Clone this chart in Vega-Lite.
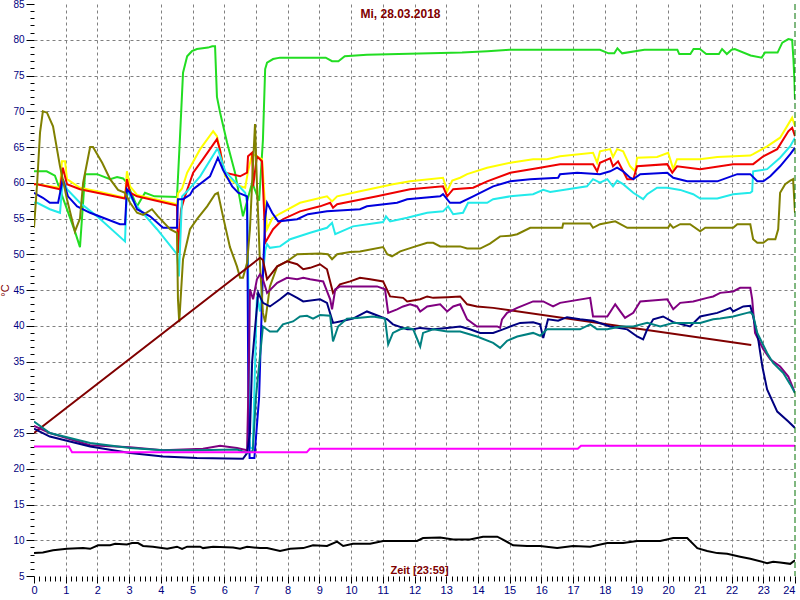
{
  "$schema": "https://vega.github.io/schema/vega-lite/v6.json",
  "width": 761,
  "height": 572,
  "autosize": "none",
  "padding": {"left": 34, "top": 4, "right": 5, "bottom": 24},
  "background": "white",
  "config": {"view": {"stroke": null}},
  "title": {"text": "Mi, 28.03.2018", "color": "#800000", "font": "Liberation Sans", "fontSize": 12, "fontWeight": "bold", "anchor": "middle", "dy": 22, "dx": -14, "offset": 0},
  "datasets": {
    "series": [
      {"s":"g","h":0,"v":61.6},{"s":"g","h":0.4,"v":61.6},{"s":"g","h":0.66,"v":61.0},{"s":"g","h":1.29,"v":53.2},{"s":"g","h":1.45,"v":51.0},{"s":"g","h":1.61,"v":61.2},{"s":"g","h":1.99,"v":61.2},{"s":"g","h":2.4,"v":60.5},{"s":"g","h":2.62,"v":60.8},{"s":"g","h":2.81,"v":60.6},{"s":"g","h":2.93,"v":60},{"s":"g","h":3.25,"v":56.7},{"s":"g","h":3.5,"v":58.6},{"s":"g","h":3.8,"v":58.1},{"s":"g","h":4.51,"v":58},{"s":"g","h":4.6,"v":66},{"s":"g","h":4.7,"v":75.4},{"s":"g","h":4.83,"v":77.7},{"s":"g","h":4.98,"v":78.4},{"s":"g","h":5.14,"v":78.7},{"s":"g","h":5.49,"v":78.9},{"s":"g","h":5.62,"v":79.1},{"s":"g","h":5.71,"v":79.1},{"s":"g","h":5.77,"v":72},{"s":"g","h":5.87,"v":69.8},{"s":"g","h":6.09,"v":65.6},{"s":"g","h":6.34,"v":61.4},{"s":"g","h":6.44,"v":59},{"s":"g","h":6.59,"v":55.3},{"s":"g","h":6.88,"v":60},{"s":"g","h":7.1,"v":57.5},{"s":"g","h":7.22,"v":66},{"s":"g","h":7.29,"v":75.9},{"s":"g","h":7.35,"v":76.8},{"s":"g","h":7.54,"v":77.3},{"s":"g","h":7.76,"v":77.5},{"s":"g","h":8.3,"v":77.5},{"s":"g","h":9.2,"v":77.5},{"s":"g","h":9.4,"v":77.0},{"s":"g","h":9.6,"v":77.0},{"s":"g","h":9.8,"v":77.7},{"s":"g","h":10.5,"v":77.9},{"s":"g","h":11.5,"v":78.0},{"s":"g","h":12.5,"v":78.1},{"s":"g","h":13.5,"v":78.2},{"s":"g","h":14.3,"v":78.4},{"s":"g","h":15.0,"v":78.6},{"s":"g","h":17.85,"v":78.6},{"s":"g","h":18.12,"v":78.1},{"s":"g","h":18.3,"v":78.1},{"s":"g","h":18.4,"v":78.8},{"s":"g","h":18.55,"v":78.1},{"s":"g","h":19.25,"v":78.6},{"s":"g","h":20.29,"v":78.6},{"s":"g","h":20.35,"v":78.0},{"s":"g","h":20.7,"v":78.0},{"s":"g","h":20.8,"v":78.7},{"s":"g","h":21.0,"v":78.7},{"s":"g","h":21.2,"v":78.0},{"s":"g","h":21.6,"v":78.0},{"s":"g","h":21.7,"v":78.7},{"s":"g","h":21.85,"v":78.0},{"s":"g","h":22.0,"v":78.6},{"s":"g","h":22.1,"v":78.7},{"s":"g","h":22.6,"v":77.8},{"s":"g","h":22.95,"v":77.5},{"s":"g","h":23.05,"v":78.2},{"s":"g","h":23.45,"v":78.2},{"s":"g","h":23.6,"v":79.6},{"s":"g","h":23.79,"v":80.1},{"s":"g","h":23.91,"v":80.0},{"s":"g","h":23.95,"v":77.3},{"s":"g","h":23.98,"v":74.5},{"s":"g","h":24.0,"v":71.7},

      {"s":"y","h":0,"v":59.8},{"s":"y","h":0.1,"v":59.8},{"s":"y","h":0.82,"v":59.3},{"s":"y","h":0.88,"v":63},{"s":"y","h":0.98,"v":63},{"s":"y","h":1.04,"v":60.5},{"s":"y","h":1.45,"v":59.3},{"s":"y","h":1.99,"v":58.8},{"s":"y","h":2.87,"v":57.9},{"s":"y","h":2.93,"v":61.6},{"s":"y","h":3.03,"v":59.5},{"s":"y","h":3.25,"v":58.3},{"s":"y","h":4.51,"v":57.0},{"s":"y","h":4.54,"v":58.5},{"s":"y","h":4.67,"v":59.2},{"s":"y","h":4.83,"v":61.4},{"s":"y","h":5.24,"v":64.7},{"s":"y","h":5.65,"v":67.2},{"s":"y","h":5.77,"v":66.5},{"s":"y","h":5.93,"v":63.3},{"s":"y","h":6.03,"v":60.9},{"s":"y","h":6.5,"v":59.5},{"s":"y","h":6.66,"v":59.3},{"s":"y","h":6.75,"v":61.6},{"s":"y","h":6.88,"v":64},{"s":"y","h":7.03,"v":63.7},{"s":"y","h":7.19,"v":63.3},{"s":"y","h":7.27,"v":58},{"s":"y","h":7.35,"v":53.5},{"s":"y","h":7.51,"v":55.0},{"s":"y","h":7.76,"v":55.7},{"s":"y","h":8.39,"v":57.2},{"s":"y","h":9.24,"v":58.1},{"s":"y","h":9.4,"v":57.4},{"s":"y","h":9.56,"v":58.1},{"s":"y","h":10.28,"v":58.8},{"s":"y","h":11.32,"v":59.8},{"s":"y","h":11.86,"v":60.2},{"s":"y","h":12.9,"v":60.7},{"s":"y","h":13.03,"v":58.8},{"s":"y","h":13.19,"v":60.3},{"s":"y","h":13.44,"v":60.7},{"s":"y","h":13.66,"v":61.2},{"s":"y","h":14.29,"v":62.1},{"s":"y","h":15.02,"v":62.8},{"s":"y","h":15.74,"v":63.3},{"s":"y","h":16.18,"v":63.3},{"s":"y","h":16.59,"v":63.7},{"s":"y","h":17.63,"v":64.2},{"s":"y","h":17.76,"v":62.8},{"s":"y","h":17.85,"v":64.4},{"s":"y","h":18.17,"v":64.7},{"s":"y","h":18.26,"v":63.6},{"s":"y","h":18.39,"v":64.7},{"s":"y","h":18.58,"v":64.4},{"s":"y","h":18.8,"v":62.3},{"s":"y","h":18.96,"v":61.6},{"s":"y","h":19.02,"v":63.5},{"s":"y","h":19.65,"v":63.6},{"s":"y","h":20.0,"v":64.2},{"s":"y","h":20.16,"v":61.9},{"s":"y","h":20.28,"v":63.3},{"s":"y","h":21.0,"v":63.3},{"s":"y","h":21.55,"v":63.6},{"s":"y","h":22.59,"v":63.8},{"s":"y","h":22.68,"v":64.0},{"s":"y","h":23.12,"v":65.1},{"s":"y","h":23.53,"v":66.3},{"s":"y","h":23.79,"v":68.2},{"s":"y","h":23.91,"v":69.1},{"s":"y","h":24.0,"v":67.9},

      {"s":"r","h":0,"v":59.8},{"s":"r","h":0.1,"v":59.8},{"s":"r","h":0.82,"v":59.1},{"s":"r","h":0.91,"v":62.1},{"s":"r","h":1.04,"v":59.8},{"s":"r","h":1.45,"v":59.1},{"s":"r","h":1.99,"v":58.6},{"s":"r","h":2.87,"v":57.8},{"s":"r","h":2.93,"v":60.5},{"s":"r","h":3.03,"v":58.6},{"s":"r","h":3.25,"v":58.1},{"s":"r","h":4.51,"v":56.8},{"s":"r","h":4.54,"v":50.2},{"s":"r","h":4.64,"v":56.3},{"s":"r","h":4.76,"v":58.1},{"s":"r","h":5.02,"v":61.4},{"s":"r","h":5.33,"v":63.3},{"s":"r","h":5.77,"v":66.1},{"s":"r","h":5.87,"v":64.5},{"s":"r","h":5.96,"v":62.3},{"s":"r","h":6.03,"v":61.4},{"s":"r","h":6.5,"v":60.9},{"s":"r","h":6.72,"v":61.4},{"s":"r","h":6.75,"v":63.7},{"s":"r","h":6.88,"v":64.2},{"s":"r","h":6.91,"v":59.5},{"s":"r","h":7.03,"v":63.7},{"s":"r","h":7.19,"v":63},{"s":"r","h":7.25,"v":56.7},{"s":"r","h":7.29,"v":51.6},{"s":"r","h":7.54,"v":53.5},{"s":"r","h":7.85,"v":54.9},{"s":"r","h":8.39,"v":56},{"s":"r","h":9.02,"v":56.7},{"s":"r","h":9.34,"v":57.2},{"s":"r","h":9.43,"v":56.5},{"s":"r","h":9.56,"v":57.0},{"s":"r","h":10.82,"v":58.1},{"s":"r","h":11.86,"v":59.1},{"s":"r","h":12.9,"v":59.5},{"s":"r","h":13.03,"v":58.1},{"s":"r","h":13.22,"v":59.1},{"s":"r","h":13.85,"v":59.3},{"s":"r","h":14.29,"v":60.2},{"s":"r","h":15.02,"v":61.4},{"s":"r","h":15.96,"v":62.1},{"s":"r","h":16.59,"v":62.6},{"s":"r","h":17.63,"v":62.6},{"s":"r","h":17.76,"v":61.6},{"s":"r","h":17.85,"v":62.8},{"s":"r","h":18.17,"v":63.4},{"s":"r","h":18.26,"v":62.3},{"s":"r","h":18.42,"v":63.0},{"s":"r","h":18.71,"v":60.5},{"s":"r","h":18.9,"v":60.5},{"s":"r","h":19.02,"v":62.3},{"s":"r","h":19.97,"v":62.6},{"s":"r","h":20.13,"v":61.4},{"s":"r","h":20.28,"v":62.3},{"s":"r","h":21.01,"v":61.9},{"s":"r","h":22.05,"v":62.6},{"s":"r","h":22.68,"v":62.6},{"s":"r","h":23.0,"v":63.7},{"s":"r","h":23.44,"v":64.7},{"s":"r","h":23.79,"v":67.2},{"s":"r","h":23.91,"v":67.7},{"s":"r","h":24.0,"v":66.5},

      {"s":"c","h":0,"v":57.2},{"s":"c","h":0.1,"v":57.2},{"s":"c","h":0.5,"v":56.3},{"s":"c","h":0.82,"v":55.8},{"s":"c","h":0.91,"v":60.5},{"s":"c","h":1.04,"v":59.1},{"s":"c","h":1.45,"v":57.2},{"s":"c","h":1.99,"v":55.3},{"s":"c","h":2.87,"v":51.8},{"s":"c","h":2.93,"v":59.1},{"s":"c","h":3.03,"v":58.1},{"s":"c","h":3.25,"v":56.7},{"s":"c","h":3.88,"v":53.5},{"s":"c","h":4.51,"v":50.0},{"s":"c","h":4.57,"v":46.9},{"s":"c","h":4.67,"v":58.1},{"s":"c","h":4.83,"v":58.8},{"s":"c","h":5.24,"v":60.9},{"s":"c","h":5.77,"v":64.7},{"s":"c","h":5.8,"v":64.7},{"s":"c","h":6.03,"v":61.6},{"s":"c","h":6.66,"v":58.6},{"s":"c","h":6.72,"v":57.2},{"s":"c","h":6.78,"v":40},{"s":"c","h":6.81,"v":23},{"s":"c","h":6.9,"v":22.8},{"s":"c","h":7.03,"v":44.1},{"s":"c","h":7.13,"v":42},{"s":"c","h":7.2,"v":46},{"s":"c","h":7.29,"v":50.5},{"s":"c","h":7.35,"v":51.4},{"s":"c","h":7.44,"v":50.9},{"s":"c","h":7.76,"v":51.1},{"s":"c","h":8.08,"v":52.1},{"s":"c","h":8.71,"v":53},{"s":"c","h":9.24,"v":53.7},{"s":"c","h":9.4,"v":54.4},{"s":"c","h":9.5,"v":52.8},{"s":"c","h":10.06,"v":53.9},{"s":"c","h":11.01,"v":54.5},{"s":"c","h":11.1,"v":55.3},{"s":"c","h":11.23,"v":54.6},{"s":"c","h":11.77,"v":55.1},{"s":"c","h":12.4,"v":55.8},{"s":"c","h":12.9,"v":56.0},{"s":"c","h":13.06,"v":56.7},{"s":"c","h":13.22,"v":55.6},{"s":"c","h":13.53,"v":55.8},{"s":"c","h":13.69,"v":57.2},{"s":"c","h":14.29,"v":57.2},{"s":"c","h":14.48,"v":57.7},{"s":"c","h":15.02,"v":58.1},{"s":"c","h":15.74,"v":58.4},{"s":"c","h":16.06,"v":59.0},{"s":"c","h":16.28,"v":58.7},{"s":"c","h":17.44,"v":59.5},{"s":"c","h":17.63,"v":60.5},{"s":"c","h":17.85,"v":60.0},{"s":"c","h":18.08,"v":60.5},{"s":"c","h":18.26,"v":59.5},{"s":"c","h":18.39,"v":60.3},{"s":"c","h":18.58,"v":59.8},{"s":"c","h":18.9,"v":58.6},{"s":"c","h":19.21,"v":57.7},{"s":"c","h":19.34,"v":58.4},{"s":"c","h":19.65,"v":59.3},{"s":"c","h":19.97,"v":59.3},{"s":"c","h":20.38,"v":59.0},{"s":"c","h":20.79,"v":58.4},{"s":"c","h":21.01,"v":57.8},{"s":"c","h":21.55,"v":57.8},{"s":"c","h":22.05,"v":58.4},{"s":"c","h":22.59,"v":58.6},{"s":"c","h":22.65,"v":58.8},{"s":"c","h":22.68,"v":61.6},{"s":"c","h":23.12,"v":61.9},{"s":"c","h":23.53,"v":63.5},{"s":"c","h":23.85,"v":65.1},{"s":"c","h":24.0,"v":66.3},

      {"s":"b","h":0,"v":58.6},{"s":"b","h":0.28,"v":57.9},{"s":"b","h":0.5,"v":57.2},{"s":"b","h":0.76,"v":57.2},{"s":"b","h":0.91,"v":60.5},{"s":"b","h":1.07,"v":58.1},{"s":"b","h":1.36,"v":56.7},{"s":"b","h":1.77,"v":55.8},{"s":"b","h":2.18,"v":55.1},{"s":"b","h":2.71,"v":54.2},{"s":"b","h":2.87,"v":54.2},{"s":"b","h":2.93,"v":59.1},{"s":"b","h":3.03,"v":58.6},{"s":"b","h":3.25,"v":56.3},{"s":"b","h":3.66,"v":55.3},{"s":"b","h":4.07,"v":53.7},{"s":"b","h":4.51,"v":53.7},{"s":"b","h":4.54,"v":57.7},{"s":"b","h":4.7,"v":57.7},{"s":"b","h":4.92,"v":58.3},{"s":"b","h":5.02,"v":59.1},{"s":"b","h":5.55,"v":60.9},{"s":"b","h":5.8,"v":63.5},{"s":"b","h":5.96,"v":61.8},{"s":"b","h":6.25,"v":59.5},{"s":"b","h":6.44,"v":58.6},{"s":"b","h":6.72,"v":58.1},{"s":"b","h":6.76,"v":30},{"s":"b","h":6.8,"v":21.5},{"s":"b","h":6.95,"v":21.5},{"s":"b","h":7.1,"v":30},{"s":"b","h":7.2,"v":45},{"s":"b","h":7.29,"v":55},{"s":"b","h":7.35,"v":57.2},{"s":"b","h":7.51,"v":55.8},{"s":"b","h":7.7,"v":54.6},{"s":"b","h":8.3,"v":54.9},{"s":"b","h":8.64,"v":55.6},{"s":"b","h":9.24,"v":56.0},{"s":"b","h":10.28,"v":56.3},{"s":"b","h":10.5,"v":56.7},{"s":"b","h":11.45,"v":57.2},{"s":"b","h":11.77,"v":57.7},{"s":"b","h":12.81,"v":58.1},{"s":"b","h":12.9,"v":58.4},{"s":"b","h":13.12,"v":57.2},{"s":"b","h":13.44,"v":57.2},{"s":"b","h":13.85,"v":58.1},{"s":"b","h":14.48,"v":59.5},{"s":"b","h":15.02,"v":60.2},{"s":"b","h":15.65,"v":60.5},{"s":"b","h":16.53,"v":60.7},{"s":"b","h":16.59,"v":61.2},{"s":"b","h":17.13,"v":61.4},{"s":"b","h":17.85,"v":61.2},{"s":"b","h":18.17,"v":61.6},{"s":"b","h":18.39,"v":62.1},{"s":"b","h":18.58,"v":61.6},{"s":"b","h":18.8,"v":60.7},{"s":"b","h":18.9,"v":60.5},{"s":"b","h":19.12,"v":61.2},{"s":"b","h":19.97,"v":61.4},{"s":"b","h":20.16,"v":60.7},{"s":"b","h":20.6,"v":60.2},{"s":"b","h":21.55,"v":60.2},{"s":"b","h":22.18,"v":61.2},{"s":"b","h":22.59,"v":61.2},{"s":"b","h":22.81,"v":60.2},{"s":"b","h":23.0,"v":60.2},{"s":"b","h":23.22,"v":60.9},{"s":"b","h":23.53,"v":62.3},{"s":"b","h":23.85,"v":64.0},{"s":"b","h":24.0,"v":64.9},

      {"s":"o","h":0,"v":53.7},{"s":"o","h":0.1,"v":60},{"s":"o","h":0.19,"v":67},{"s":"o","h":0.28,"v":70},{"s":"o","h":0.41,"v":69.8},{"s":"o","h":0.6,"v":67.9},{"s":"o","h":0.82,"v":62.3},{"s":"o","h":1.04,"v":57.7},{"s":"o","h":1.29,"v":53.2},{"s":"o","h":1.45,"v":55},{"s":"o","h":1.55,"v":60},{"s":"o","h":1.77,"v":65},{"s":"o","h":1.86,"v":65},{"s":"o","h":2.15,"v":62.8},{"s":"o","h":2.4,"v":60.5},{"s":"o","h":2.65,"v":59},{"s":"o","h":2.87,"v":58.6},{"s":"o","h":3.03,"v":57.2},{"s":"o","h":3.25,"v":55.8},{"s":"o","h":3.44,"v":55.5},{"s":"o","h":3.72,"v":56.3},{"s":"o","h":3.91,"v":55.3},{"s":"o","h":4.29,"v":53.5},{"s":"o","h":4.51,"v":53},{"s":"o","h":4.54,"v":43.7},{"s":"o","h":4.58,"v":40.5},{"s":"o","h":4.7,"v":49.3},{"s":"o","h":4.92,"v":53.5},{"s":"o","h":5.14,"v":54.9},{"s":"o","h":5.46,"v":56.7},{"s":"o","h":5.71,"v":58.4},{"s":"o","h":5.8,"v":58.6},{"s":"o","h":5.96,"v":55.3},{"s":"o","h":6.18,"v":51},{"s":"o","h":6.4,"v":48.3},{"s":"o","h":6.5,"v":46.7},{"s":"o","h":6.59,"v":46.7},{"s":"o","h":6.72,"v":48.8},{"s":"o","h":6.81,"v":53.5},{"s":"o","h":6.91,"v":62.8},{"s":"o","h":6.97,"v":68.2},{"s":"o","h":7.03,"v":60},{"s":"o","h":7.13,"v":48.3},{"s":"o","h":7.22,"v":41.8},{"s":"o","h":7.29,"v":40.5},{"s":"o","h":7.44,"v":45.5},{"s":"o","h":7.67,"v":48.3},{"s":"o","h":7.98,"v":49.0},{"s":"o","h":8.3,"v":50.0},{"s":"o","h":9.02,"v":50.1},{"s":"o","h":9.27,"v":50.0},{"s":"o","h":9.4,"v":49.3},{"s":"o","h":9.56,"v":50.0},{"s":"o","h":9.97,"v":50.3},{"s":"o","h":10.28,"v":50.4},{"s":"o","h":11.01,"v":51},{"s":"o","h":11.14,"v":50.0},{"s":"o","h":11.29,"v":49.7},{"s":"o","h":11.55,"v":50.4},{"s":"o","h":11.96,"v":51},{"s":"o","h":12.4,"v":51.6},{"s":"o","h":12.59,"v":51.6},{"s":"o","h":12.81,"v":51.1},{"s":"o","h":13.44,"v":51.1},{"s":"o","h":13.66,"v":50.8},{"s":"o","h":14.07,"v":50.8},{"s":"o","h":14.38,"v":51.5},{"s":"o","h":14.7,"v":52.5},{"s":"o","h":15.02,"v":52.6},{"s":"o","h":15.24,"v":52.8},{"s":"o","h":15.65,"v":53.7},{"s":"o","h":16.66,"v":53.7},{"s":"o","h":16.69,"v":54.3},{"s":"o","h":17.54,"v":54.3},{"s":"o","h":17.63,"v":53.7},{"s":"o","h":17.85,"v":54.2},{"s":"o","h":18.33,"v":54.6},{"s":"o","h":18.71,"v":53.7},{"s":"o","h":20.0,"v":53.7},{"s":"o","h":20.06,"v":54.2},{"s":"o","h":20.16,"v":53.7},{"s":"o","h":20.38,"v":54.2},{"s":"o","h":20.69,"v":54.2},{"s":"o","h":21.01,"v":53.2},{"s":"o","h":21.17,"v":53.7},{"s":"o","h":22.05,"v":53.7},{"s":"o","h":22.18,"v":54.2},{"s":"o","h":22.59,"v":54.2},{"s":"o","h":22.68,"v":52.1},{"s":"o","h":22.81,"v":51.6},{"s":"o","h":23.0,"v":51.6},{"s":"o","h":23.15,"v":52.1},{"s":"o","h":23.38,"v":52.1},{"s":"o","h":23.47,"v":53.5},{"s":"o","h":23.53,"v":58.6},{"s":"o","h":23.69,"v":59.8},{"s":"o","h":23.85,"v":60.3},{"s":"o","h":23.94,"v":60.5},{"s":"o","h":24.0,"v":55.8},

      {"s":"m","h":0,"v":25.0},{"s":"m","h":7.13,"v":49.5},{"s":"m","h":7.22,"v":49.2},{"s":"m","h":7.35,"v":46.5},{"s":"m","h":7.67,"v":48.3},{"s":"m","h":7.98,"v":49.0},{"s":"m","h":8.3,"v":48.6},{"s":"m","h":8.49,"v":47.9},{"s":"m","h":8.71,"v":48.1},{"s":"m","h":9.02,"v":48.6},{"s":"m","h":9.24,"v":47.9},{"s":"m","h":9.43,"v":44.6},{"s":"m","h":9.65,"v":45.8},{"s":"m","h":9.97,"v":46.2},{"s":"m","h":10.28,"v":46.7},{"s":"m","h":10.6,"v":46.5},{"s":"m","h":11.01,"v":46.2},{"s":"m","h":11.23,"v":44.1},{"s":"m","h":11.64,"v":43.9},{"s":"m","h":11.77,"v":43.4},{"s":"m","h":12.18,"v":43.7},{"s":"m","h":12.4,"v":44.1},{"s":"m","h":12.59,"v":43.9},{"s":"m","h":13.03,"v":44.0},{"s":"m","h":13.44,"v":44.1},{"s":"m","h":13.66,"v":43.0},{"s":"m","h":13.97,"v":42.7},{"s":"m","h":14.48,"v":42.5},{"s":"m","h":22.62,"v":37.3},

      {"s":"p","h":0,"v":26.0},{"s":"p","h":0.5,"v":25.0},{"s":"p","h":1.77,"v":23.3},{"s":"p","h":3.03,"v":23.0},{"s":"p","h":4.07,"v":22.6},{"s":"p","h":5.33,"v":22.8},{"s":"p","h":5.87,"v":23.2},{"s":"p","h":6.4,"v":22.9},{"s":"p","h":6.72,"v":22.6},{"s":"p","h":6.78,"v":35},{"s":"p","h":6.81,"v":45.1},{"s":"p","h":6.91,"v":43.7},{"s":"p","h":7.03,"v":46.5},{"s":"p","h":7.13,"v":47.2},{"s":"p","h":7.22,"v":46.5},{"s":"p","h":7.35,"v":44.6},{"s":"p","h":7.67,"v":46.0},{"s":"p","h":7.98,"v":46.7},{"s":"p","h":8.3,"v":46.5},{"s":"p","h":8.49,"v":46.7},{"s":"p","h":8.71,"v":46.5},{"s":"p","h":9.12,"v":46.2},{"s":"p","h":9.34,"v":43.7},{"s":"p","h":9.4,"v":42.3},{"s":"p","h":9.5,"v":45.1},{"s":"p","h":9.65,"v":45.5},{"s":"p","h":10.82,"v":45.5},{"s":"p","h":11.07,"v":45.1},{"s":"p","h":11.17,"v":41.8},{"s":"p","h":11.45,"v":42.3},{"s":"p","h":11.64,"v":42.7},{"s":"p","h":11.86,"v":43.0},{"s":"p","h":12.08,"v":42.7},{"s":"p","h":12.18,"v":42.0},{"s":"p","h":12.4,"v":42.7},{"s":"p","h":12.81,"v":43.0},{"s":"p","h":13.03,"v":42.0},{"s":"p","h":13.22,"v":42.7},{"s":"p","h":13.44,"v":43.0},{"s":"p","h":13.66,"v":40.9},{"s":"p","h":13.97,"v":39.9},{"s":"p","h":14.61,"v":39.9},{"s":"p","h":14.7,"v":39.7},{"s":"p","h":14.76,"v":40.9},{"s":"p","h":14.92,"v":41.8},{"s":"p","h":15.24,"v":42.5},{"s":"p","h":15.74,"v":43.4},{"s":"p","h":16.06,"v":43.4},{"s":"p","h":16.37,"v":42.7},{"s":"p","h":16.59,"v":43.2},{"s":"p","h":17.54,"v":43.9},{"s":"p","h":17.63,"v":41.3},{"s":"p","h":18.08,"v":41.3},{"s":"p","h":18.33,"v":43.0},{"s":"p","h":18.49,"v":42.0},{"s":"p","h":18.64,"v":41.1},{"s":"p","h":18.9,"v":41.8},{"s":"p","h":19.12,"v":43.4},{"s":"p","h":19.97,"v":43.7},{"s":"p","h":20.16,"v":42.3},{"s":"p","h":20.38,"v":43.2},{"s":"p","h":20.79,"v":43.4},{"s":"p","h":21.23,"v":43.9},{"s":"p","h":21.42,"v":44.1},{"s":"p","h":21.64,"v":44.6},{"s":"p","h":22.05,"v":44.8},{"s":"p","h":22.27,"v":45.3},{"s":"p","h":22.59,"v":45.3},{"s":"p","h":22.65,"v":43.7},{"s":"p","h":22.74,"v":39.0},{"s":"p","h":23.0,"v":36.7},{"s":"p","h":23.22,"v":35.3},{"s":"p","h":23.53,"v":34.3},{"s":"p","h":23.79,"v":32.9},{"s":"p","h":24.0,"v":30.6},

      {"s":"n","h":0,"v":25.6},{"s":"n","h":0.5,"v":24.5},{"s":"n","h":1.77,"v":23.1},{"s":"n","h":3.03,"v":22.2},{"s":"n","h":4.07,"v":21.7},{"s":"n","h":5.14,"v":21.5},{"s":"n","h":6.59,"v":21.4},{"s":"n","h":6.72,"v":22.2},{"s":"n","h":6.81,"v":25},{"s":"n","h":6.88,"v":35},{"s":"n","h":7.07,"v":44.6},{"s":"n","h":7.22,"v":43.2},{"s":"n","h":7.44,"v":42.7},{"s":"n","h":7.76,"v":43.7},{"s":"n","h":8.01,"v":44.6},{"s":"n","h":8.3,"v":43.9},{"s":"n","h":8.49,"v":43.4},{"s":"n","h":9.02,"v":43.7},{"s":"n","h":9.24,"v":43.2},{"s":"n","h":9.43,"v":40.4},{"s":"n","h":9.65,"v":40.6},{"s":"n","h":10.06,"v":41.0},{"s":"n","h":10.5,"v":42.0},{"s":"n","h":10.91,"v":41.3},{"s":"n","h":11.14,"v":40.9},{"s":"n","h":11.32,"v":40.2},{"s":"n","h":11.77,"v":39.5},{"s":"n","h":11.96,"v":39.5},{"s":"n","h":12.18,"v":39.7},{"s":"n","h":12.59,"v":39.5},{"s":"n","h":13.03,"v":39.7},{"s":"n","h":13.44,"v":39.9},{"s":"n","h":13.75,"v":39.5},{"s":"n","h":14.07,"v":39.0},{"s":"n","h":14.48,"v":39.0},{"s":"n","h":14.79,"v":39.5},{"s":"n","h":15.02,"v":39.9},{"s":"n","h":15.33,"v":40.4},{"s":"n","h":15.74,"v":40.5},{"s":"n","h":15.96,"v":40.2},{"s":"n","h":16.06,"v":38.3},{"s":"n","h":16.21,"v":40.9},{"s":"n","h":16.53,"v":40.7},{"s":"n","h":16.81,"v":41.2},{"s":"n","h":17.22,"v":40.9},{"s":"n","h":17.63,"v":40.7},{"s":"n","h":18.17,"v":39.9},{"s":"n","h":18.71,"v":39.5},{"s":"n","h":19.02,"v":38.5},{"s":"n","h":19.21,"v":38.1},{"s":"n","h":19.34,"v":39.5},{"s":"n","h":19.53,"v":40.9},{"s":"n","h":19.84,"v":41.3},{"s":"n","h":20.16,"v":40.5},{"s":"n","h":20.69,"v":39.9},{"s":"n","h":21.01,"v":41.3},{"s":"n","h":21.55,"v":41.8},{"s":"n","h":21.96,"v":42.5},{"s":"n","h":22.05,"v":42.0},{"s":"n","h":22.37,"v":42.7},{"s":"n","h":22.59,"v":42.8},{"s":"n","h":22.68,"v":41.3},{"s":"n","h":22.84,"v":38.1},{"s":"n","h":22.97,"v":34.3},{"s":"n","h":23.12,"v":31.1},{"s":"n","h":23.44,"v":28.0},{"s":"n","h":23.79,"v":26.6},{"s":"n","h":24.0,"v":25.7},

      {"s":"t","h":0,"v":26.6},{"s":"t","h":0.5,"v":25.0},{"s":"t","h":1.77,"v":23.6},{"s":"t","h":3.03,"v":22.9},{"s":"t","h":4.07,"v":22.6},{"s":"t","h":5.14,"v":22.6},{"s":"t","h":6.4,"v":22.7},{"s":"t","h":6.72,"v":22.2},{"s":"t","h":6.9,"v":22.5},{"s":"t","h":7.0,"v":30},{"s":"t","h":7.22,"v":39.9},{"s":"t","h":7.44,"v":39.2},{"s":"t","h":7.67,"v":39.2},{"s":"t","h":7.85,"v":40.2},{"s":"t","h":8.17,"v":40.6},{"s":"t","h":8.39,"v":41.3},{"s":"t","h":8.61,"v":41.4},{"s":"t","h":8.8,"v":41.0},{"s":"t","h":9.02,"v":41.5},{"s":"t","h":9.34,"v":41.4},{"s":"t","h":9.43,"v":37.8},{"s":"t","h":9.59,"v":39.9},{"s":"t","h":9.87,"v":41.0},{"s":"t","h":10.19,"v":41.1},{"s":"t","h":10.69,"v":41.3},{"s":"t","h":11.07,"v":41.0},{"s":"t","h":11.17,"v":37.4},{"s":"t","h":11.32,"v":39.0},{"s":"t","h":11.55,"v":39.5},{"s":"t","h":11.77,"v":39.7},{"s":"t","h":11.96,"v":39.5},{"s":"t","h":12.18,"v":37.1},{"s":"t","h":12.27,"v":39.0},{"s":"t","h":12.59,"v":39.5},{"s":"t","h":13.03,"v":39.2},{"s":"t","h":13.44,"v":39.2},{"s":"t","h":13.97,"v":38.5},{"s":"t","h":14.48,"v":37.6},{"s":"t","h":14.7,"v":36.9},{"s":"t","h":14.92,"v":37.9},{"s":"t","h":15.24,"v":38.5},{"s":"t","h":15.74,"v":39.0},{"s":"t","h":15.96,"v":38.6},{"s":"t","h":16.18,"v":39.5},{"s":"t","h":16.81,"v":39.5},{"s":"t","h":17.22,"v":39.5},{"s":"t","h":17.54,"v":40.2},{"s":"t","h":17.76,"v":39.5},{"s":"t","h":18.08,"v":39.5},{"s":"t","h":18.49,"v":39.9},{"s":"t","h":18.9,"v":39.9},{"s":"t","h":19.34,"v":40.4},{"s":"t","h":19.75,"v":39.9},{"s":"t","h":20.16,"v":40.4},{"s":"t","h":20.6,"v":40.4},{"s":"t","h":21.01,"v":40.4},{"s":"t","h":21.42,"v":40.9},{"s":"t","h":21.64,"v":41.0},{"s":"t","h":22.05,"v":41.3},{"s":"t","h":22.49,"v":41.8},{"s":"t","h":22.59,"v":41.9},{"s":"t","h":22.68,"v":41.5},{"s":"t","h":22.81,"v":39.0},{"s":"t","h":23.12,"v":36.2},{"s":"t","h":23.31,"v":34.8},{"s":"t","h":23.63,"v":33.4},{"s":"t","h":23.85,"v":31.8},{"s":"t","h":24.0,"v":30.6},

      {"s":"k","h":0,"v":23.1},{"s":"k","h":1.1,"v":23.1},{"s":"k","h":1.2,"v":22.3},{"s":"k","h":8.6,"v":22.3},{"s":"k","h":8.7,"v":22.8},{"s":"k","h":17.15,"v":22.8},{"s":"k","h":17.25,"v":23.2},{"s":"k","h":24,"v":23.2},

      {"s":"z","h":0,"v":8.2},{"s":"z","h":0.28,"v":8.3},{"s":"z","h":0.6,"v":8.6},{"s":"z","h":1.04,"v":8.8},{"s":"z","h":1.55,"v":8.9},{"s":"z","h":1.77,"v":8.8},{"s":"z","h":2.02,"v":9.3},{"s":"z","h":2.4,"v":9.3},{"s":"z","h":2.56,"v":9.5},{"s":"z","h":2.93,"v":9.4},{"s":"z","h":3.09,"v":9.6},{"s":"z","h":3.28,"v":9.6},{"s":"z","h":3.44,"v":9.2},{"s":"z","h":3.75,"v":9.1},{"s":"z","h":4.2,"v":8.8},{"s":"z","h":4.51,"v":9.1},{"s":"z","h":4.67,"v":8.8},{"s":"z","h":4.83,"v":9.1},{"s":"z","h":5.24,"v":9.1},{"s":"z","h":5.33,"v":8.9},{"s":"z","h":5.65,"v":9.1},{"s":"z","h":6.28,"v":9.0},{"s":"z","h":6.5,"v":8.8},{"s":"z","h":6.72,"v":9.1},{"s":"z","h":7.13,"v":8.9},{"s":"z","h":7.35,"v":8.9},{"s":"z","h":7.76,"v":8.5},{"s":"z","h":8.08,"v":8.8},{"s":"z","h":8.49,"v":8.9},{"s":"z","h":8.8,"v":9.3},{"s":"z","h":9.24,"v":9.2},{"s":"z","h":9.56,"v":9.8},{"s":"z","h":9.75,"v":9.2},{"s":"z","h":10.06,"v":9.5},{"s":"z","h":10.6,"v":9.5},{"s":"z","h":11.01,"v":9.9},{"s":"z","h":11.55,"v":9.9},{"s":"z","h":12.08,"v":9.9},{"s":"z","h":12.27,"v":10.3},{"s":"z","h":12.81,"v":10.4},{"s":"z","h":13.22,"v":10.1},{"s":"z","h":13.75,"v":10.1},{"s":"z","h":14.16,"v":10.5},{"s":"z","h":14.61,"v":10.5},{"s":"z","h":14.79,"v":10.1},{"s":"z","h":15.11,"v":9.3},{"s":"z","h":15.55,"v":9.2},{"s":"z","h":15.96,"v":9.2},{"s":"z","h":16.5,"v":8.9},{"s":"z","h":17.0,"v":9.2},{"s":"z","h":17.54,"v":9.1},{"s":"z","h":18.08,"v":9.6},{"s":"z","h":18.58,"v":9.6},{"s":"z","h":19.02,"v":9.9},{"s":"z","h":19.75,"v":9.9},{"s":"z","h":20.16,"v":10.3},{"s":"z","h":20.6,"v":10.3},{"s":"z","h":20.92,"v":8.9},{"s":"z","h":21.23,"v":8.5},{"s":"z","h":21.55,"v":8.2},{"s":"z","h":21.86,"v":8.1},{"s":"z","h":22.27,"v":7.7},{"s":"z","h":22.59,"v":7.4},{"s":"z","h":23.12,"v":6.8},{"s":"z","h":23.31,"v":7.0},{"s":"z","h":23.53,"v":6.9},{"s":"z","h":23.85,"v":6.7},{"s":"z","h":24.0,"v":7.2}
    ]
  },
  "layer": [
    {
      "data": {"values": [{"h": 0, "v": 5}]},
      "mark": {"type": "point", "opacity": 0},
      "encoding": {
        "x": {"field": "h", "type": "quantitative", "scale": {"domain": [0, 24], "nice": false, "zero": false},
          "axis": {"orient": "bottom", "values": [0.167,0.333,0.5,0.667,0.833,1.167,1.333,1.5,1.667,1.833,2.167,2.333,2.5,2.667,2.833,3.167,3.333,3.5,3.667,3.833,4.167,4.333,4.5,4.667,4.833,5.167,5.333,5.5,5.667,5.833,6.167,6.333,6.5,6.667,6.833,7.167,7.333,7.5,7.667,7.833,8.167,8.333,8.5,8.667,8.833,9.167,9.333,9.5,9.667,9.833,10.167,10.333,10.5,10.667,10.833,11.167,11.333,11.5,11.667,11.833,12.167,12.333,12.5,12.667,12.833,13.167,13.333,13.5,13.667,13.833,14.167,14.333,14.5,14.667,14.833,15.167,15.333,15.5,15.667,15.833,16.167,16.333,16.5,16.667,16.833,17.167,17.333,17.5,17.667,17.833,18.167,18.333,18.5,18.667,18.833,19.167,19.333,19.5,19.667,19.833,20.167,20.333,20.5,20.667,20.833,21.167,21.333,21.5,21.667,21.833,22.167,22.333,22.5,22.667,22.833,23.167,23.333,23.5,23.667,23.833],
            "labels": false, "grid": false, "domain": false, "tickSize": 5, "tickColor": "#000000", "title": null}},
        "y": {"field": "v", "type": "quantitative", "scale": {"domain": [5, 85], "nice": false, "zero": false},
          "axis": {"orient": "left", "values": [6,7,8,9,11,12,13,14,16,17,18,19,21,22,23,24,26,27,28,29,31,32,33,34,36,37,38,39,41,42,43,44,46,47,48,49,51,52,53,54,56,57,58,59,61,62,63,64,66,67,68,69,71,72,73,74,76,77,78,79,81,82,83,84],
            "labels": false, "grid": false, "domain": false, "tickSize": 4, "tickColor": "#000000", "title": null}}
      }
    },
    {
      "data": {"name": "series"},
      "mark": {"type": "line", "strokeWidth": 2, "interpolate": "linear", "clip": true},
      "encoding": {
        "x": {"field": "h", "type": "quantitative", "scale": {"domain": [0, 24], "nice": false, "zero": false},
          "axis": {"orient": "bottom", "values": [0,1,2,3,4,5,6,7,8,9,10,11,12,13,14,15,16,17,18,19,20,21,22,23,24],
            "grid": true, "gridColor": "#808080", "gridDash": [3, 3], "gridWidth": 1,
            "gridOpacity": {"condition": {"test": "datum.value == 0 || datum.value == 24", "value": 0}, "value": 1},
            "domain": false, "tickSize": 7, "tickColor": "#000000",
            "labelColor": "#000080", "labelFont": "Liberation Sans", "labelFontSize": 11, "labelPadding": 1, "labelFlush": false, "labelOverlap": false,
            "labelAlign": {"condition": {"test": "datum.value == 24", "value": "right"}, "value": "center"},
            "title": "Zeit [23:59]", "titleColor": "#800000", "titleFont": "Liberation Sans", "titleFontSize": 11, "titleFontWeight": "bold",
            "titleX": 385, "titleY": -3, "titleBaseline": "alphabetic", "titleAlign": "center", "titleAnchor": null}},
        "y": {"field": "v", "type": "quantitative", "scale": {"domain": [5, 85], "nice": false, "zero": false},
          "axis": {"orient": "left", "values": [5,10,15,20,25,30,35,40,45,50,55,60,65,70,75,80,85],
            "grid": true, "gridColor": "#808080", "gridDash": [3, 3], "gridWidth": 1,
            "gridOpacity": {"condition": {"test": "datum.value == 5 || datum.value == 85", "value": 0}, "value": 1},
            "domain": false, "tickSize": 8, "tickColor": "#000000",
            "labelColor": "#000080", "labelFont": "Liberation Sans", "labelFontSize": 10, "labelPadding": 2, "labelFlush": false, "labelOverlap": false,
            "title": "°C", "titleColor": "#800000", "titleFont": "Liberation Sans", "titleFontSize": 11, "titleFontWeight": "normal",
            "titleX": -24, "titleY": 286, "titleAlign": "center", "titleAnchor": null}},
        "color": {"field": "s", "type": "nominal", "legend": null,
          "scale": {"domain": ["z","k","m","t","n","p","o","c","b","y","r","g"],
                    "range": ["#000000","#ff00ff","#800000","#008080","#000080","#800080","#808000","#22eaea","#0000dd","#ffff00","#ee0000","#22dd22"]}}
      }
    },
    {
      "data": {"values": [{"h": 24}]},
      "mark": {"type": "rule", "color": "#007000", "strokeDash": [6, 3], "strokeWidth": 1},
      "encoding": {"x": {"field": "h", "type": "quantitative", "axis": null}}
    }
  ],
  "resolve": {"axis": {"x": "independent", "y": "independent"}}
}
